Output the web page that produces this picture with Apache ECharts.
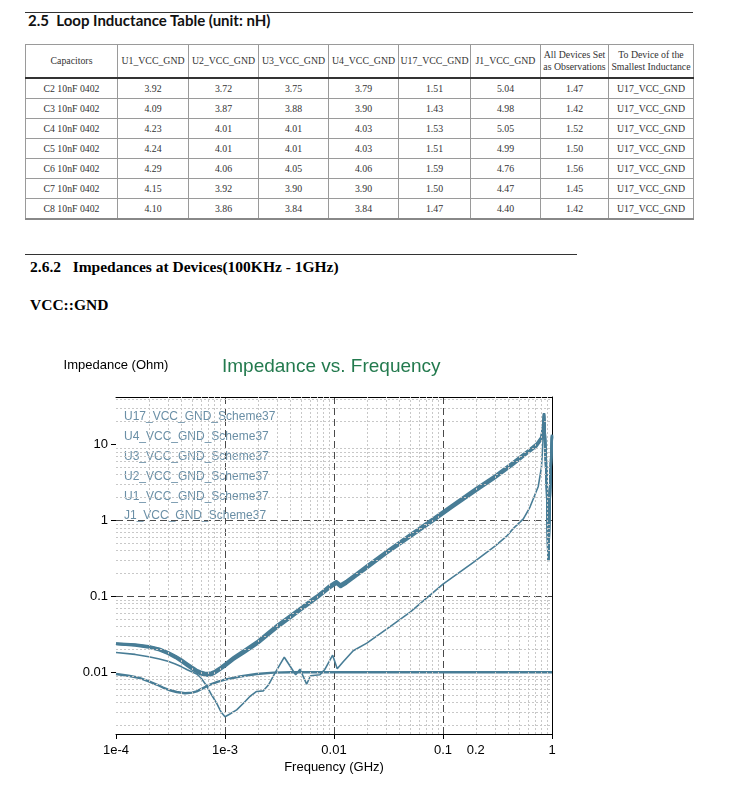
<!DOCTYPE html>
<html><head><meta charset="utf-8">
<script src="https://cdn.jsdelivr.net/npm/echarts@6/dist/echarts.min.js"></script>
<style>
html,body{margin:0;padding:0;background:#fff;width:741px;height:803px;overflow:hidden;position:relative}
.rule{position:absolute;height:1px;background:#333}
.h1{position:absolute;left:28px;top:11px;font-family:Lato,'Open Sans',sans-serif;font-weight:bold;font-size:15px;line-height:18px;color:#111;white-space:pre}
.h2{position:absolute;left:30px;font-family:'Liberation Serif','Times New Roman',serif;font-weight:bold;font-size:15.5px;line-height:18px;color:#000;white-space:pre}
table{position:absolute;left:25px;top:44px;border-collapse:collapse;table-layout:fixed;width:668px;font-family:'Liberation Serif','Times New Roman',serif;font-size:9.8px;color:#333;border:1px solid #555}
td,th{border:1px solid #9a9a9a;text-align:center;padding:0;font-weight:normal;overflow:hidden;white-space:nowrap}
th{height:32px;border-bottom:2px solid #333;line-height:12px}
td{height:19px;line-height:19px}
tr.last td{border-bottom:2px solid #888}
#chart{position:absolute;left:0;top:330px;width:741px;height:473px}
</style></head>
<body>
<div class="rule" style="left:25px;top:12px;width:668px"></div>
<div class="h1">2.5&nbsp; Loop Inductance Table (unit: nH)</div>
<table id="tbl"></table>
<div class="rule" style="left:25px;top:254px;width:552px"></div>
<div class="h2" style="top:258px">2.6.2   Impedances at Devices(100KHz - 1GHz)</div>
<div class="h2" style="top:296px">VCC::GND</div>
<div id="chart"></div>
<script>
// ---------- table data ----------
const tableHeaders = ['Capacitors','U1_VCC_GND','U2_VCC_GND','U3_VCC_GND','U4_VCC_GND','U17_VCC_GND','J1_VCC_GND','All Devices Set\nas Observations','To Device of the\nSmallest Inductance'];
const colWidths = [92,71,70,70,70,72,70,68,85];
const capacitors = ['C2 10nF 0402','C3 10nF 0402','C4 10nF 0402','C5 10nF 0402','C6 10nF 0402','C7 10nF 0402','C8 10nF 0402'];
const colU1  = ['3.92','4.09','4.23','4.24','4.29','4.15','4.10'];
const colU2  = ['3.72','3.87','4.01','4.01','4.06','3.92','3.86'];
const colU3  = ['3.75','3.88','4.01','4.01','4.05','3.90','3.84'];
const colU4  = ['3.79','3.90','4.03','4.03','4.06','3.90','3.84'];
const colU17 = ['1.51','1.43','1.53','1.51','1.59','1.50','1.47'];
const colJ1  = ['5.04','4.98','5.05','4.99','4.76','4.47','4.40'];
const colAll = ['1.47','1.42','1.52','1.50','1.56','1.45','1.42'];
const colSmallest = ['U17_VCC_GND','U17_VCC_GND','U17_VCC_GND','U17_VCC_GND','U17_VCC_GND','U17_VCC_GND','U17_VCC_GND'];

(function buildTable(){
  const t = document.getElementById('tbl');
  let h = '<colgroup>' + colWidths.map(w=>'<col style="width:'+w+'px">').join('') + '</colgroup>';
  h += '<tr>' + tableHeaders.map(s=>'<th>'+s.replace('\n','<br>')+'</th>').join('') + '</tr>';
  const cols = [capacitors,colU1,colU2,colU3,colU4,colU17,colJ1,colAll,colSmallest];
  for (let r=0;r<capacitors.length;r++){
    h += '<tr'+(r===capacitors.length-1?' class="last"':'')+'>' + cols.map(c=>'<td>'+c[r]+'</td>').join('') + '</tr>';
  }
  t.innerHTML = h;
})();

// ---------- chart data ----------
const seriesNames = ['U17_VCC_GND_Scheme37','U4_VCC_GND_Scheme37','U3_VCC_GND_Scheme37','U2_VCC_GND_Scheme37','U1_VCC_GND_Scheme37','J1_VCC_GND_Scheme37'];

const bundleFreq = [1e-4,1.5e-4,2e-4,2.5e-4,3e-4,3.5e-4,4e-4,4.5e-4,5e-4,5.5e-4,6e-4,6.5e-4,7e-4,7.5e-4,8e-4,9e-4,
  1e-3,1.2e-3,1.5e-3,2e-3,3e-3,4e-3,5e-3,6e-3,7e-3,8e-3,9e-3,0.0105,0.0115,0.013,0.016,0.02,0.03,0.05,0.08,0.12,
  0.2,0.3,0.44,0.6,0.725,0.8,0.83,0.845,0.87,0.9,0.926,0.95,0.975,1.0];
const u1Vals = [0.0240,0.0232,0.0221,0.0205,0.0185,0.0165,0.0147,0.0131,0.0118,0.0108,0.0102,0.0099,0.0098,0.0100,0.0104,0.0116,
  0.0130,0.0159,0.0196,0.0260,0.0419,0.057,0.072,0.088,0.103,0.120,0.138,0.159,0.144,0.161,0.20,0.255,0.39,0.66,1.05,1.59,
  2.65,3.9,5.9,8.3,10.3,12.6,18,26,9.5,2.6,0.31,1.6,5.2,13.5];
const u2Vals = [0.0237,0.0228,0.0216,0.0199,0.0179,0.0159,0.0141,0.0125,0.0112,0.0103,0.0097,0.0094,0.0093,0.0095,0.0099,0.0110,
  0.0123,0.0150,0.0185,0.0245,0.0395,0.054,0.068,0.083,0.097,0.113,0.130,0.150,0.136,0.152,0.19,0.24,0.37,0.62,0.99,1.5,
  2.5,3.7,5.6,7.9,9.8,12,17,25,9,2.5,0.3,1.5,5,13];
const u3Vals = [0.0235,0.0225,0.0212,0.0195,0.0175,0.0155,0.0137,0.0121,0.0109,0.0100,0.0094,0.0091,0.0090,0.0092,0.0096,0.0107,
  0.0119,0.0146,0.0179,0.0238,0.0383,0.052,0.066,0.080,0.094,0.110,0.126,0.146,0.132,0.147,0.184,0.233,0.36,0.60,0.96,1.46,
  2.43,3.6,5.4,7.7,9.5,11.6,16.5,24,8.7,2.4,0.29,1.45,4.8,12.6];
const u4Vals = [0.0238,0.0230,0.0218,0.0202,0.0182,0.0162,0.0144,0.0128,0.0115,0.0105,0.0099,0.0096,0.0095,0.0097,0.0101,0.0112,
  0.0125,0.0153,0.0189,0.0250,0.0403,0.055,0.069,0.085,0.099,0.115,0.133,0.153,0.139,0.155,0.194,0.245,0.38,0.63,1.01,1.53,
  2.55,3.8,5.7,8.1,10.0,12.2,17.3,25.5,9.2,2.55,0.3,1.55,5.1,13.2];

const u17Freq = [1e-4,1.5e-4,2e-4,2.5e-4,3e-4,3.5e-4,4e-4,4.5e-4,5e-4,5.5e-4,6e-4,6.8e-4,7.5e-4,8.4e-4,9.2e-4,1e-3,1.1e-3,1.28e-3,
  1.5e-3,1.69e-3,1.95e-3,2.25e-3,2.5e-3,2.88e-3,3.5e-3,4.45e-3,4.87e-3,5.61e-3,6.1e-3,7.44e-3,8.27e-3,9.72e-3,0.0107,0.0122,
  0.015,0.02,0.0327,0.05,0.066,0.1,0.19,0.3,0.384,0.44,0.546,0.628,0.748,0.8,0.832,0.845,0.87,0.9,0.926,0.95,0.975,1.0];
const u17Vals = [0.0182,0.0172,0.0160,0.0150,0.0140,0.0129,0.0118,0.0108,0.0101,0.0095,0.0085,0.0066,0.0051,0.0039,0.0030,0.0026,0.0028,0.0032,
  0.0040,0.0048,0.0056,0.0057,0.0068,0.0098,0.0158,0.0093,0.0110,0.0070,0.0090,0.0093,0.0110,0.0168,0.0111,0.0139,
  0.0192,0.0242,0.040,0.062,0.087,0.145,0.28,0.46,0.62,0.78,1.05,1.5,2.8,5.0,13,22,8,2.2,0.3,1.4,4.5,12];

const j1Freq = [1e-4,1.3e-4,1.66e-4,2e-4,2.36e-4,2.7e-4,3.13e-4,3.6e-4,4.3e-4,5e-4,5.5e-4,6.3e-4,7.3e-4,8.5e-4,1e-3,1.37e-3,1.95e-3,2.8e-3,4e-3,0.01,0.1,1.0];
const j1Vals = [0.0095,0.0090,0.0084,0.0076,0.0069,0.0063,0.0058,0.0055,0.0053,0.0054,0.0056,0.0062,0.0069,0.0075,0.0080,0.0088,0.0095,0.0099,0.0100,0.0100,0.0100,0.0100];

const xMinV = 1e-4, xMaxV = 1;
const yMinV = 0.00154, yMaxV = 42.2;
const xTickVals = [1e-4, 1e-3, 0.01, 0.1, 1];
const xLabelVals = [1e-4, 1e-3, 0.01, 0.1, 0.2, 1];
const xLabelText = ['1e-4', '1e-3', '0.01', '0.1', '0.2', '1'];
const yTickVals = [0.01, 0.1, 1, 10];
const yLabelText = ['0.01', '0.1', '1', '10'];

// ---------- build ----------
const FONT = "'Liberation Sans', Arial, sans-serif";
const LINE = '#487d96';
function pairs(fs, zs){ return fs.map((f,i)=>[f, zs[i]]); }
function labelOf(v, vals, texts){
  for (let i=0;i<vals.length;i++){ if (Math.abs(Math.log10(v)-Math.log10(vals[i]))<1e-6) return texts[i]; }
  return '';
}
const minorX = []; for (let k=-4;k<=-1;k++) for (let m=2;m<=9;m++) minorX.push(m*Math.pow(10,k));
const minorY = []; for (let k=-3;k<=1;k++) for (let m=2;m<=9;m++){ const v=m*Math.pow(10,k); if (v>yMinV && v<yMaxV) minorY.push(v); }

const seriesData = [pairs(u17Freq,u17Vals), pairs(bundleFreq,u4Vals), pairs(bundleFreq,u3Vals), pairs(bundleFreq,u2Vals), pairs(bundleFreq,u1Vals), pairs(j1Freq,j1Vals)];
const widths = [1.6, 2.4, 2.4, 2.4, 2.4, 2.4];

const series = seriesNames.map((n,i)=>({
  name:n, type:'line', data:seriesData[i], showSymbol:false, symbol:'none', z:3,
  lineStyle:{color:LINE, width:widths[i]}, itemStyle:{color:LINE}, emphasis:{disabled:true}
}));
series.push({
  type:'line', data:[], z:1, silent:true,
  markLine:{silent:true, precision:12, symbol:['none','none'], label:{show:false}, emphasis:{disabled:true},
    lineStyle:{color:'#c8c8c8', type:[2,2], width:1},
    data: minorX.map(v=>({xAxis:v})).concat(minorY.map(v=>({yAxis:v})))}
});

const chart = echarts.init(document.getElementById('chart'), null, {renderer:'canvas'});
chart.setOption({
  animation:false,
  backgroundColor:'#fff',
  title:{text:'Impedance vs. Frequency', left:222, top:27, padding:0,
    textStyle:{color:'#237a4e', fontSize:19, fontWeight:'normal', fontFamily:FONT}},
  legend:{data:seriesNames, orient:'vertical', left:118, top:80, padding:0, icon:'none',
    itemWidth:1, itemHeight:14, itemGap:6.8, selectedMode:false,
    textStyle:{color:'#6a8fa6', fontSize:12, fontFamily:FONT}},
  grid:{left:116, right:189, top:67, bottom:69, outerBoundsMode:'none', containLabel:false},
  xAxis:[{
    type:'log', logBase:10, min:xMinV, max:xMaxV, position:'bottom',
    name:'Frequency (GHz)', nameLocation:'middle', nameGap:27, nameMoveOverlap:false,
    nameTextStyle:{color:'#000', fontSize:13, fontFamily:FONT},
    axisLine:{show:true, lineStyle:{color:'#000', width:1}},
    axisTick:{show:true, customValues:xTickVals, length:5, inside:false, lineStyle:{color:'#000'}},
    axisLabel:{customValues:xLabelVals, margin:10, color:'#000', fontSize:13, fontFamily:FONT,
      formatter:v=>labelOf(v, xLabelVals, xLabelText)},
    splitLine:{show:true, showMinLine:false, showMaxLine:false, lineStyle:{color:'#4a4a4a', type:[7,4], width:1}},
    minorTick:{show:false}, minorSplitLine:{show:false}
  },{
    type:'log', logBase:10, min:xMinV, max:xMaxV, position:'top',
    axisLine:{show:true, lineStyle:{color:'#000', width:1}},
    axisTick:{show:false}, axisLabel:{show:false}, splitLine:{show:false}
  }],
  yAxis:[{
    type:'log', logBase:10, min:yMinV, max:yMaxV, position:'left',
    name:'Impedance (Ohm)', nameLocation:'end', nameGap:25, nameMoveOverlap:false,
    nameTextStyle:{color:'#000', fontSize:13, fontFamily:FONT},
    axisLine:{show:false},
    axisTick:{show:true, customValues:yTickVals, length:5, inside:false, lineStyle:{color:'#000'}},
    axisLabel:{customValues:yTickVals, margin:8, color:'#000', fontSize:13, fontFamily:FONT,
      formatter:v=>labelOf(v, yTickVals, yLabelText)},
    splitLine:{show:true, showMinLine:false, showMaxLine:false, lineStyle:{color:'#4a4a4a', type:[7,4], width:1}},
    minorTick:{show:false}, minorSplitLine:{show:false}
  },{
    type:'log', logBase:10, min:yMinV, max:yMaxV, position:'right',
    axisLine:{show:true, lineStyle:{color:'#000', width:1}},
    axisTick:{show:false}, axisLabel:{show:false}, splitLine:{show:false}
  }],
  series: series
});
</script>
</body></html>
